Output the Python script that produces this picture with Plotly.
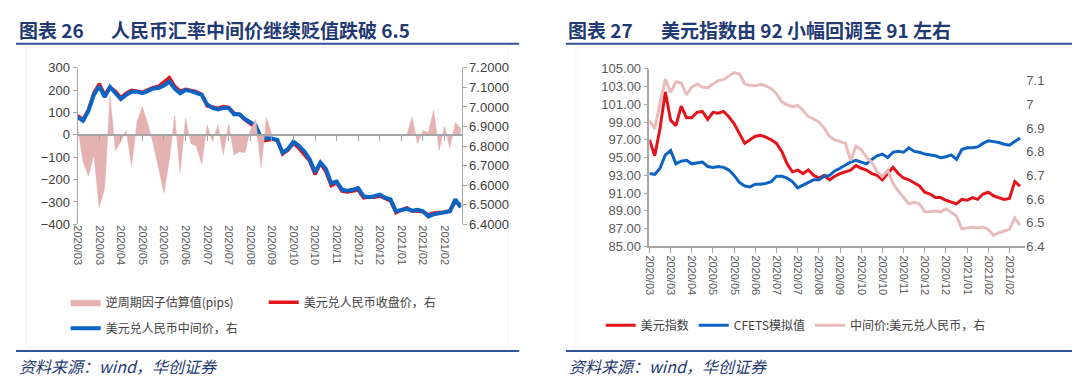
import plotly.graph_objects as go

W, H = 1080, 378

# ---------------- data ----------------
tick_labels = ["2020/03", "2020/03", "2020/04", "2020/05", "2020/05", "2020/06",
               "2020/07", "2020/07", "2020/08", "2020/09", "2020/10", "2020/10",
               "2020/11", "2020/12", "2020/12", "2021/01", "2021/02", "2021/02"]

# Left chart (chart 26): 72 sampled trading-day points
ccyc_pips = [35, -120, -185, -90, -325, -240, 175, -70, -30, 20, -140, 60,
             125, 50, -40, -155, -260, -110, 85, -170, 75, -40, -50, -130,
             45, -30, 45, -90, 50, -90, -75, -80, 20, 70, -145, 80,
             0, 0, 0, 0, 0, 0, 0, 0, 0, 0, 0, 0,
             0, 0, 0, 0, 0, 0, 0, 0, 0, 0, 0, 0,
             0, 0, 80, -40, 20, 10, 110, -70, 40, -60, 55, 30]

usdcny_close = [6.955, 6.935, 6.985, 7.070, 7.118, 7.062, 7.100, 7.080, 7.048, 7.070, 7.085, 7.082,
                7.075, 7.088, 7.100, 7.105, 7.125, 7.150, 7.105, 7.080, 7.090, 7.085, 7.078, 7.065,
                7.005, 7.000, 6.992, 7.002, 6.998, 6.968, 6.960, 6.935, 6.915, 6.895, 6.825, 6.832,
                6.835, 6.830, 6.760, 6.780, 6.815, 6.790, 6.760, 6.725, 6.655, 6.712, 6.670, 6.598,
                6.612, 6.570, 6.565, 6.572, 6.575, 6.535, 6.540, 6.538, 6.545, 6.532, 6.520, 6.460,
                6.475, 6.485, 6.468, 6.468, 6.465, 6.448, 6.458, 6.460, 6.462, 6.470, 6.515, 6.500]

usdcny_mid_l = [6.947, 6.930, 6.979, 7.062, 7.106, 7.051, 7.102, 7.070, 7.040, 7.062, 7.078, 7.078,
                7.070, 7.081, 7.094, 7.097, 7.110, 7.130, 7.094, 7.070, 7.086, 7.081, 7.070, 7.062,
                7.013, 6.995, 6.987, 6.995, 6.995, 6.963, 6.963, 6.938, 6.922, 6.906, 6.841, 6.841,
                6.839, 6.831, 6.766, 6.785, 6.823, 6.802, 6.774, 6.733, 6.667, 6.716, 6.684, 6.610,
                6.618, 6.577, 6.572, 6.577, 6.585, 6.544, 6.539, 6.544, 6.552, 6.536, 6.528, 6.467,
                6.474, 6.479, 6.470, 6.474, 6.467, 6.441, 6.451, 6.457, 6.462, 6.467, 6.528, 6.487]

# Right chart (chart 27): 71 sampled trading-day points
dxy = [97.0, 95.2, 98.3, 102.4, 99.2, 98.6, 100.8, 99.5, 99.5, 100.1, 100.2, 99.3,
       100.1, 100.0, 100.2, 99.6, 98.8, 97.7, 96.6, 97.0, 97.4, 97.5, 97.3, 97.0,
       96.6, 95.7, 94.3, 93.4, 93.6, 93.2, 93.6, 93.0, 92.7, 93.0, 92.5, 92.9,
       93.2, 93.4, 93.6, 94.1, 93.8, 93.6, 93.2, 93.0, 92.5, 93.2, 93.9, 93.2,
       92.7, 92.5, 92.1, 91.8, 91.1, 90.9, 90.5, 90.5, 90.2, 90.0, 89.8, 90.3,
       90.2, 90.5, 90.3, 90.9, 91.1, 90.7, 90.5, 90.3, 90.4, 92.3, 91.8]

cfets = [93.2, 93.1, 93.8, 95.3, 95.8, 94.3, 94.6, 94.7, 94.3, 94.4, 94.5, 94.0,
         93.9, 94.0, 93.9, 93.6, 93.0, 92.2, 91.8, 91.7, 92.0, 92.0, 92.1, 92.3,
         92.9, 92.9, 92.7, 92.3, 91.6, 91.9, 92.2, 92.5, 92.5, 92.9, 93.0, 93.5,
         93.8, 94.2, 94.5, 94.7, 94.5, 94.3, 94.8, 95.2, 95.4, 95.0, 95.6, 95.7,
         95.6, 96.1, 95.7, 95.6, 95.4, 95.3, 95.2, 95.0, 95.1, 95.3, 94.8, 95.9,
         96.1, 96.1, 96.2, 96.6, 96.9, 96.8, 96.7, 96.5, 96.4, 96.8, 97.2]

usdcny_mid_r = [6.931, 6.897, 7.005, 7.107, 7.050, 7.095, 7.090, 7.040, 7.073, 7.086, 7.073, 7.070,
                7.086, 7.100, 7.105, 7.118, 7.134, 7.128, 7.086, 7.080, 7.078, 7.084, 7.078, 7.066,
                7.045, 7.010, 6.998, 6.990, 6.995, 6.975, 6.948, 6.938, 6.925, 6.900, 6.865, 6.850,
                6.843, 6.836, 6.762, 6.823, 6.809, 6.776, 6.755, 6.715, 6.695, 6.722, 6.668, 6.634,
                6.607, 6.580, 6.586, 6.580, 6.546, 6.546, 6.550, 6.546, 6.559, 6.542, 6.528, 6.474,
                6.478, 6.482, 6.478, 6.482, 6.472, 6.447, 6.458, 6.465, 6.472, 6.520, 6.490]

right_ticks = [6.4, 6.5, 6.6, 6.7, 6.8, 6.9, 7.0, 7.1]
right_tick_text = ["6.4", "6.5", "6.6", "6.7", "6.8", "6.9", "7", "7.1"]

x_left = list(range(len(usdcny_mid_l)))
x_right = list(range(len(dxy)))
tick_pos = list(range(0, 4 * len(tick_labels), 4))

# ---------------- style ----------------
RED = "#E3141C"
BLUE = "#0B63C4"
PINK = "#E3B2B1"
PINK_LINE = "#E8BCBB"
NAVY = "#1F3A73"
AX = "#A6A6A6"
TXT = "#404040"
FONT = "Noto Sans CJK SC"


def px_x(p):
    return p / W


def px_y(p):
    return 1 - p / H


fig = go.Figure()

# Left chart traces
fig.add_trace(go.Scatter(x=x_left, y=ccyc_pips, xaxis="x2", yaxis="y", mode="lines",
                         line=dict(width=0.5, color=PINK), fill="tozeroy", fillcolor=PINK,
                         name="逆周期因子估算值(pips)", legend="legend"))
fig.add_trace(go.Scatter(x=x_left, y=usdcny_close, xaxis="x", yaxis="y2", mode="lines",
                         line=dict(width=3.5, color=RED), name="美元兑人民币收盘价，右",
                         legend="legend"))
fig.add_trace(go.Scatter(x=x_left, y=usdcny_mid_l, xaxis="x", yaxis="y2", mode="lines",
                         line=dict(width=4, color=BLUE), name="美元兑人民币中间价，右",
                         legend="legend2"))

# Right chart traces
fig.add_trace(go.Scatter(x=x_right, y=usdcny_mid_r, xaxis="x3", yaxis="y4", mode="lines",
                         line=dict(width=3, color=PINK_LINE), name="中间价:美元兑人民币，右",
                         legend="legend3", legendrank=3))
fig.add_trace(go.Scatter(x=x_right, y=dxy, xaxis="x3", yaxis="y3", mode="lines",
                         line=dict(width=3, color=RED), name="美元指数",
                         legend="legend3", legendrank=1))
fig.add_trace(go.Scatter(x=x_right, y=cfets, xaxis="x3", yaxis="y3", mode="lines",
                         line=dict(width=3, color=BLUE), name="CFETS模拟值",
                         legend="legend3", legendrank=2))

L_dom_x = [px_x(64), px_x(450)]
L_dom_y = [px_y(218), px_y(55)]
R_dom_x = [px_x(639), px_x(1017)]
R_dom_y = [px_y(241), px_y(56)]
zero_pos = px_y(125)

tickfont_x = dict(family="Liberation Sans, Arial", size=11, color="#595959")
tickfont_y = dict(family="Liberation Sans, Arial", size=13, color=TXT)

fig.update_layout(
    width=W, height=H, autosize=False,
    margin=dict(l=0, r=0, t=0, b=0),
    paper_bgcolor="white", plot_bgcolor="rgba(0,0,0,0)",
    font=dict(family=FONT, color=TXT),
    xaxis=dict(domain=L_dom_x, anchor="y", range=[0, 71.15], tickmode="array",
               tickvals=tick_pos, ticktext=tick_labels, tickangle=90, showline=False,
               ticks="", showgrid=False, zeroline=False, tickfont=tickfont_x),
    xaxis2=dict(overlaying="x", anchor="free", position=zero_pos, range=[0, 71.15],
                tickmode="array", tickvals=tick_pos, showticklabels=False,
                showline=True, linecolor=AX, linewidth=1.5, ticks="outside", ticklen=5,
                tickcolor=AX, showgrid=False, zeroline=False),
    yaxis=dict(domain=L_dom_y, anchor="x", range=[-400, 300], dtick=100, showline=True,
               linecolor=AX, ticks="outside", ticklen=4, tickcolor=AX, showgrid=False,
               zeroline=False, tickfont=tickfont_y),
    yaxis2=dict(overlaying="y", side="right", anchor="x", range=[6.4, 7.2], dtick=0.1,
                tick0=6.4, tickformat=".4f", showline=True, linecolor=AX, ticks="outside",
                ticklen=4, tickcolor=AX, showgrid=False, zeroline=False, tickfont=tickfont_y),
    xaxis3=dict(domain=R_dom_x, anchor="y3", range=[0, 71], tickmode="array",
                tickvals=tick_pos, ticktext=tick_labels, tickangle=90, showline=True,
                linecolor=AX, linewidth=1.5, ticks="outside", ticklen=5, tickcolor=AX,
                showgrid=False, zeroline=False, tickfont=tickfont_x),
    yaxis3=dict(domain=R_dom_y, anchor="x3", range=[85, 105], tick0=85, dtick=2,
                tickformat=".2f", showline=True, linecolor=AX, linewidth=1.5,
                ticks="outside", ticklen=4, tickcolor=AX, showgrid=False, zeroline=False,
                tickfont=dict(family="Liberation Sans, Arial", size=13, color="#595959")),
    yaxis4=dict(overlaying="y3", side="right", anchor="x3", range=[6.4, 7.15],
                tickmode="array", tickvals=right_ticks, ticktext=right_tick_text,
                showline=False, ticks="", showgrid=False, zeroline=False,
                tickfont=dict(family="Liberation Sans, Arial", size=13, color="#595959")),
    legend=dict(x=px_x(52), y=px_y(284), xanchor="left", yanchor="top", orientation="h",
                font=dict(family=FONT, size=12, color=TXT), bgcolor="rgba(0,0,0,0)",
                itemwidth=30, entrywidth=153),
    legend2=dict(x=px_x(52), y=px_y(311), xanchor="left", yanchor="top", orientation="h",
                 font=dict(family=FONT, size=12, color=TXT), bgcolor="rgba(0,0,0,0)",
                 itemwidth=30),
    legend3=dict(x=px_x(590), y=px_y(308), xanchor="left", yanchor="top", orientation="h",
                 font=dict(family=FONT, size=12, color=TXT), bgcolor="rgba(0,0,0,0)",
                 itemwidth=30),
)

# Titles, rules, sources
ann = []


def add_text(x, y, text, size, bold=False, italic=False, family=FONT):
    t = text
    if bold:
        t = "<b>" + t + "</b>"
    if italic:
        t = "<i>" + t + "</i>"
    ann.append(dict(x=px_x(x), y=px_y(y), xref="paper", yref="paper", text=t,
                    showarrow=False, xanchor="left", yanchor="middle",
                    font=dict(family=family, size=size, color=NAVY)))


add_text(3, 15, "图表 26", 19, bold=True)
add_text(96, 15, "人民币汇率中间价继续贬值跌破 6.5", 19, bold=True)
add_text(555, 15, "图表 27", 19, bold=True)
add_text(649, 15, "美元指数由 92 小幅回调至 91 左右", 19, bold=True)
add_text(3, 366, "资料来源：wind，华创证券", 16, italic=True)
add_text(556, 366, "资料来源：wind，华创证券", 16, italic=True)
fig.update_layout(annotations=ann)

shapes = []
for (x0, x1) in [(2, 508), (555, 1080)]:
    for yy in [30, 350]:
        shapes.append(dict(type="line", xref="paper", yref="paper",
                           x0=px_x(x0), x1=px_x(x1), y0=px_y(yy), y1=px_y(yy),
                           line=dict(color="#2F5597", width=2)))
for (x0, x1) in [(12, 497), (565, 1070)]:
    shapes.append(dict(type="rect", xref="paper", yref="paper",
                       x0=px_x(x0), x1=px_x(x1), y0=px_y(346), y1=px_y(34),
                       line=dict(color="#F2F2F2", width=1), layer="below"))
fig.update_layout(shapes=shapes)

fig.write_html("out.html")
